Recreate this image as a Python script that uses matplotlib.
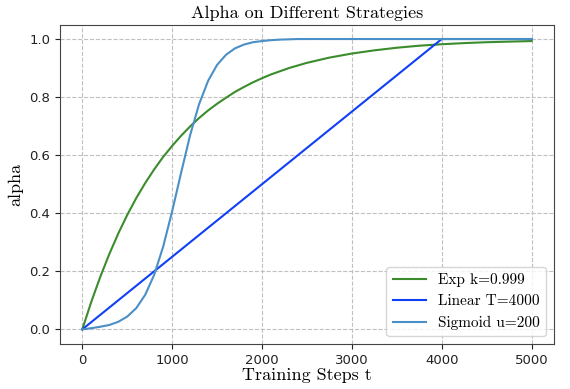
import matplotlib
matplotlib.use("Agg")
import matplotlib.pyplot as plt

steps = [0, 100, 200, 300, 400, 500, 600, 700, 800, 900, 1000, 1100, 1200,
         1300, 1400, 1500, 1600, 1700, 1800, 1900, 2000, 2100, 2200, 2300,
         2400, 2500, 2750, 3000, 3250, 3500, 3750, 4000, 4250, 4500, 4750, 5000]

exp_alpha = [0.0, 0.095, 0.181, 0.259, 0.330, 0.394, 0.452, 0.504, 0.551,
             0.594, 0.632, 0.667, 0.699, 0.728, 0.754, 0.777, 0.798, 0.818,
             0.835, 0.851, 0.865, 0.878, 0.889, 0.900, 0.909, 0.918,
             0.936, 0.950, 0.961, 0.970, 0.977, 0.982, 0.986, 0.989, 0.991, 0.993]

sigmoid_alpha = [0.0, 0.004, 0.009, 0.015, 0.026, 0.044, 0.073, 0.119, 0.188,
                 0.285, 0.407, 0.540, 0.669, 0.776, 0.856, 0.911, 0.946, 0.968,
                 0.981, 0.989, 0.993, 0.996, 0.998, 0.999, 1.0, 1.0,
                 1.0, 1.0, 1.0, 1.0, 1.0, 1.0, 1.0, 1.0, 1.0, 1.0]

linear_steps = [0, 4000, 5000]
linear_alpha = [0.0, 1.0, 1.0]

labels = ["Exp k=0.999", "Linear T=4000", "Sigmoid u=200"]
colors = ["#3a8c2c", "#1040f5", "#4a8fc6"]

serif = "cmr10"

fig = plt.figure(figsize=(5.7, 3.89), dpi=100)
ax = fig.add_axes([0.105, 0.116, 0.867, 0.821])

ax.plot(steps, exp_alpha, color=colors[0], lw=1.5, label=labels[0])
ax.plot(linear_steps, linear_alpha, color=colors[1], lw=1.5, label=labels[1])
ax.plot(steps, sigmoid_alpha, color=colors[2], lw=1.5, label=labels[2])

ax.grid(True, linestyle="--", color="#c0c0c0", lw=0.8)
ax.set_axisbelow(True)
for s in ax.spines.values():
    s.set_color("#444444")
ax.tick_params(labelsize=9.5, colors="#222222")
ax.set_xticks([0, 1000, 2000, 3000, 4000, 5000])
ax.set_yticks([0.0, 0.2, 0.4, 0.6, 0.8, 1.0])

ax.set_title("Alpha on Different Strategies", fontsize=13, family=serif, pad=5)
ax.set_xlabel("Training Steps t", fontsize=13, family=serif, labelpad=1)
ax.set_ylabel("alpha", fontsize=13, family=serif)

leg = ax.legend(loc="lower right", prop={"family": serif, "size": 11},
                handlelength=2.2)

fig.savefig("out.png", dpi=100)
